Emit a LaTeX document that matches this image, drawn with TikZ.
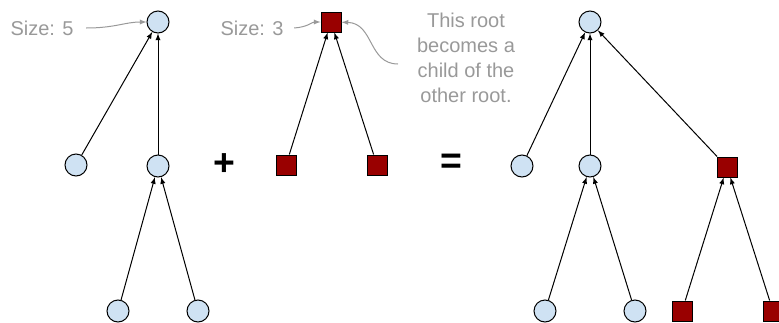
\documentclass[tikz,border=0pt]{standalone}
\usepackage{fontspec}
\setmainfont{Liberation Sans}
\definecolor{nodeblue}{HTML}{CFE2F3}
\definecolor{rootred}{HTML}{990000}
\definecolor{notegray}{HTML}{999999}
\tikzset{
  elem/.style={circle,draw,fill=nodeblue,line width=0.75pt,minimum size=16.5pt,inner sep=0pt},
  other/.style={rectangle,draw,fill=rootred,line width=0.75pt,minimum size=15pt,inner sep=0pt},
  link/.style={-latex,line width=0.75pt},
  note/.style={text=notegray,font=\fontsize{15}{18.75}\selectfont},
  hint/.style={-latex,draw=notegray,line width=0.75pt},
  sign/.style={font=\fontsize{28}{30}\selectfont\bfseries}
}
\begin{document}
\begin{tikzpicture}[x=0.75pt,y=-0.75pt]
    \useasboundingbox (0,0) rectangle (779,322);
    % first tree, size 5
    \node[elem] (a) at (158,22) {};
    \node[elem] (b) at (76,165) {};
    \node[elem] (c) at (158,166) {};
    \node[elem] (d) at (118,311) {};
    \node[elem] (e) at (198,311) {};
    \draw[link] (b) -- (a);
    \draw[link] (c) -- (a);
    \draw[link] (d) -- (c);
    \draw[link] (e) -- (c);
    % second tree, size 3
    \node[other] (f) at (331,22) {};
    \node[other] (g) at (286,165) {};
    \node[other] (h) at (377,165) {};
    \draw[link] (g) -- (f);
    \draw[link] (h) -- (f);
    \node[sign] (plus) at (224,165) {+};
    \node[sign] (eq) at (451,164) {=};
    % merged tree
    \node[elem] (A) at (590,22) {};
    \node[elem] (B) at (522,166) {};
    \node[elem] (C) at (590,166) {};
    \node[elem] (D) at (545,311) {};
    \node[elem] (E) at (635,311) {};
    \node[other] (F) at (727,167) {};
    \node[other] (G) at (682,311) {};
    \node[other] (H) at (773,311) {};
    \draw[link] (B) -- (A);
    \draw[link] (C) -- (A);
    \draw[link] (F) -- (A);
    \draw[link] (D) -- (C);
    \draw[link] (E) -- (C);
    \draw[link] (G) -- (F);
    \draw[link] (H) -- (F);
    % notes
    \node[note] (s5) at (42,28) {Size: 5};
    \node[note] (s3) at (252,28) {Size: 3};
    \node[note,align=center] (why) at (466,58) {This root\\becomes a\\child of the\\other root.};
    \coordinate (w) at (398,64);
    \draw[hint] (s5.east) ++(8,0) .. controls (115,28) and (125,22) .. (a);
    \draw[hint] (s3.east) ++(6,0) .. controls (308,27) and (312,22) .. (f);
    \draw[hint] (w) .. controls (368,64) and (374,23) .. (f);
\end{tikzpicture}
\end{document}
